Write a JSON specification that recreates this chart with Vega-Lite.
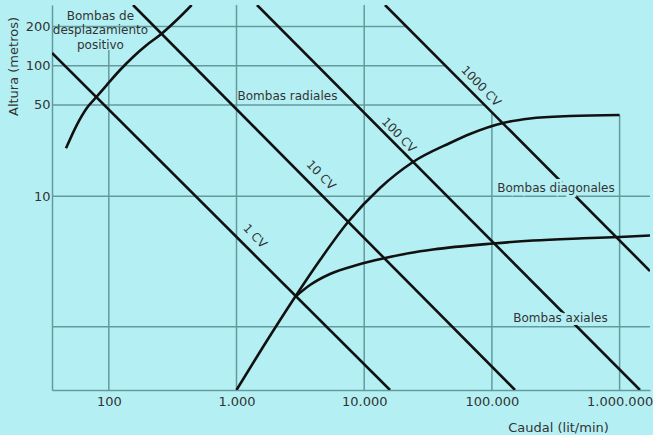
{
  "$schema": "https://vega.github.io/schema/vega-lite/v6.json",
  "width": 598,
  "height": 385,
  "autosize": {"type": "none"},
  "padding": {"left": 52, "top": 5, "right": 3, "bottom": 45},
  "background": "#b4f0f3",
  "config": {"view": {"stroke": null}},
  "datasets": {
    "grid": [
      {"Q": 100, "Q2": 100, "H": 0.3273, "H2": 132},
      {"Q": 1000, "Q2": 1000, "H": 0.3273, "H2": 291.9},
      {"Q": 10000, "Q2": 10000, "H": 0.3273, "H2": 291.9},
      {"Q": 100000, "Q2": 100000, "H": 0.3273, "H2": 44},
      {"Q": 1000000, "Q2": 1000000, "H": 0.3273, "H2": 41.9},
      {"Q": 35.9, "Q2": 21000, "H": 200, "H2": 200},
      {"Q": 35.9, "Q2": 43000, "H": 100, "H2": 100},
      {"Q": 35.9, "Q2": 87000, "H": 50, "H2": 50},
      {"Q": 35.9, "Q2": 1730000, "H": 10, "H2": 10},
      {"Q": 35.9, "Q2": 1730000, "H": 1, "H2": 1}
    ],
    "curves": [
      {"series": "1 CV", "i": 0, "Q": 35.9, "H": 125.1},
      {"series": "1 CV", "i": 1, "Q": 15920, "H": 0.3273},
      {"series": "10 CV", "i": 0, "Q": 154.7, "H": 291.9},
      {"series": "10 CV", "i": 1, "Q": 151700, "H": 0.3273},
      {"series": "100 CV", "i": 0, "Q": 1447, "H": 291.9},
      {"series": "100 CV", "i": 1, "Q": 1444000, "H": 0.3273},
      {"series": "1000 CV", "i": 0, "Q": 14550, "H": 291.9},
      {"series": "1000 CV", "i": 1, "Q": 1730000, "H": 2.672},
      {"series": "desplazamiento", "i": 0, "Q": 46.2, "H": 23.28},
      {"series": "desplazamiento", "i": 1, "Q": 56.1, "H": 35.1},
      {"series": "desplazamiento", "i": 2, "Q": 67.1, "H": 47.2},
      {"series": "desplazamiento", "i": 3, "Q": 80.4, "H": 57.9},
      {"series": "desplazamiento", "i": 4, "Q": 96.3, "H": 71.1},
      {"series": "desplazamiento", "i": 5, "Q": 122.4, "H": 92.7},
      {"series": "desplazamiento", "i": 6, "Q": 155.6, "H": 117.2},
      {"series": "desplazamiento", "i": 7, "Q": 198.1, "H": 144.1},
      {"series": "desplazamiento", "i": 8, "Q": 251.8, "H": 171.9},
      {"series": "desplazamiento", "i": 9, "Q": 340.2, "H": 224},
      {"series": "desplazamiento", "i": 10, "Q": 445.9, "H": 291.9},
      {"series": "radial", "i": 0, "Q": 1000, "H": 0.3273},
      {"series": "radial", "i": 1, "Q": 1612, "H": 0.699},
      {"series": "radial", "i": 2, "Q": 2872, "H": 1.689},
      {"series": "radial", "i": 3, "Q": 4507, "H": 3.244},
      {"series": "radial", "i": 4, "Q": 7467, "H": 6.343},
      {"series": "radial", "i": 5, "Q": 13295, "H": 11.56},
      {"series": "radial", "i": 6, "Q": 24110, "H": 18.29},
      {"series": "radial", "i": 7, "Q": 46970, "H": 25.57},
      {"series": "radial", "i": 8, "Q": 67370, "H": 29.97},
      {"series": "radial", "i": 9, "Q": 122150, "H": 36.38},
      {"series": "radial", "i": 10, "Q": 198800, "H": 39.39},
      {"series": "radial", "i": 11, "Q": 408900, "H": 41.17},
      {"series": "radial", "i": 12, "Q": 1000000, "H": 41.9},
      {"series": "axial", "i": 0, "Q": 2872, "H": 1.689},
      {"series": "axial", "i": 1, "Q": 3763, "H": 2.087},
      {"series": "axial", "i": 2, "Q": 5398, "H": 2.534},
      {"series": "axial", "i": 3, "Q": 8782, "H": 2.971},
      {"series": "axial", "i": 4, "Q": 14040, "H": 3.331},
      {"series": "axial", "i": 5, "Q": 22840, "H": 3.671},
      {"series": "axial", "i": 6, "Q": 34570, "H": 3.905},
      {"series": "axial", "i": 7, "Q": 102000, "H": 4.34},
      {"series": "axial", "i": 8, "Q": 209800, "H": 4.576},
      {"series": "axial", "i": 9, "Q": 516900, "H": 4.757},
      {"series": "axial", "i": 10, "Q": 1000000, "H": 4.868},
      {"series": "axial", "i": 11, "Q": 1730000, "H": 5.0}
    ],
    "labels": [
      {"label": "Bombas de", "Q": 86, "H": 240},
      {"label": "desplazamiento", "Q": 86, "H": 188},
      {"label": "positivo", "Q": 86, "H": 144},
      {"label": "Bombas radiales", "Q": 2506, "H": 58.6},
      {"label": "Bombas diagonales", "Q": 317700, "H": 11.66},
      {"label": "Bombas axiales", "Q": 344300, "H": 1.176}
    ],
    "cvlabels": [
      {"label": "1 CV", "Q": 1396, "H": 4.95},
      {"label": "10 CV", "Q": 4594, "H": 14.5},
      {"label": "100 CV", "Q": 18730, "H": 29.4},
      {"label": "1000 CV", "Q": 82200, "H": 69.8}
    ]
  },
  "encoding": {
    "x": {
      "field": "Q",
      "type": "quantitative",
      "scale": {"type": "log", "domain": [35.9, 1730000], "nice": false},
      "axis": {
        "values": [100, 1000, 10000, 100000, 1000000],
        "labelExpr": "replace(replace(format(datum.value, ','), ',', '.'), ',', '.')",
        "grid": false,
        "ticks": false,
        "labelPadding": 5,
        "labelFlush": false,
        "labelOverlap": false,
        "labelFont": "DejaVu Sans",
        "labelFontSize": 13,
        "labelColor": "#333333",
        "domainColor": "#639a9e",
        "domainWidth": 1.5,
        "title": "Caudal (lit/min)",
        "titleX": 506,
        "titleY": 37,
        "titleAlign": "center",
        "titleBaseline": "middle",
        "titleFont": "DejaVu Sans",
        "titleFontSize": 13,
        "titleFontWeight": "normal",
        "titleColor": "#333333"
      }
    },
    "y": {
      "field": "H",
      "type": "quantitative",
      "scale": {"type": "log", "domain": [0.3273, 291.9], "nice": false},
      "axis": {
        "values": [10, 50, 100, 200],
        "grid": false,
        "ticks": false,
        "labelPadding": 2,
        "labelFlush": false,
        "labelOverlap": false,
        "labelFont": "DejaVu Sans",
        "labelFontSize": 13,
        "labelColor": "#333333",
        "domainColor": "#639a9e",
        "domainWidth": 1.5,
        "title": "Altura (metros)",
        "titleX": -39,
        "titleY": 61,
        "titleAngle": -90,
        "titleAlign": "center",
        "titleBaseline": "middle",
        "titleFont": "DejaVu Sans",
        "titleFontSize": 13,
        "titleFontWeight": "normal",
        "titleColor": "#333333"
      }
    }
  },
  "layer": [
    {
      "data": {"name": "grid"},
      "mark": {"type": "rule", "color": "#639a9e", "strokeWidth": 1.5, "clip": true},
      "encoding": {"x2": {"field": "Q2"}, "y2": {"field": "H2"}}
    },
    {
      "data": {"name": "curves"},
      "mark": {"type": "line", "color": "#111111", "strokeWidth": 2.6, "interpolate": "monotone", "clip": true},
      "encoding": {
        "detail": {"field": "series", "type": "nominal"},
        "order": {"field": "i", "type": "quantitative"}
      }
    },
    {
      "data": {"name": "labels"},
      "transform": [{"filter": "datum.label == 'Bombas diagonales' || datum.label == 'Bombas axiales'"}],
      "mark": {"type": "text", "font": "DejaVu Sans", "fontSize": 12, "align": "center", "baseline": "middle", "fill": "#b4f0f3", "stroke": "#b4f0f3", "strokeWidth": 6},
      "encoding": {"text": {"field": "label", "type": "nominal"}}
    },
    {
      "data": {"name": "labels"},
      "mark": {"type": "text", "font": "DejaVu Sans", "fontSize": 12, "align": "center", "baseline": "middle", "color": "#333333"},
      "encoding": {"text": {"field": "label", "type": "nominal"}}
    },
    {
      "data": {"name": "cvlabels"},
      "mark": {"type": "text", "font": "DejaVu Sans", "fontSize": 12, "align": "center", "baseline": "middle", "angle": 46, "color": "#333333"},
      "encoding": {"text": {"field": "label", "type": "nominal"}}
    }
  ]
}
